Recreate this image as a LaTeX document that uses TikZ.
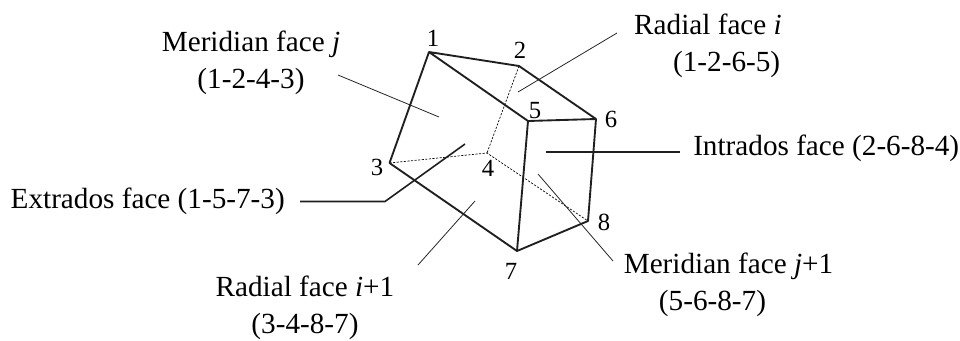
\documentclass[tikz,border=0pt]{standalone}
\usepackage{fontspec}
\setmainfont{Liberation Serif}
\begin{document}
\begin{tikzpicture}[x=0.75pt,y=-0.75pt,
  edge/.style={line width=1.4pt,line join=round,draw=black!88},
  hidden/.style={line width=0.5pt,dash pattern=on 1.6pt off 1.1pt,draw=black},
  thin lead/.style={line width=0.6pt,draw=black!85},
  thick lead/.style={line width=1.2pt,draw=black!88},
  vertex/.style={inner sep=0pt,font=\fontsize{18.5}{20}\selectfont},
  caption/.style={inner sep=0pt,align=center,font=\fontsize{21.9}{28}\selectfont}]
\useasboundingbox (0,0) rectangle (960,340);
\coordinate (p1) at (429,52);
\coordinate (p2) at (519,66);
\coordinate (p3) at (389.5,163);
\coordinate (p4) at (487,153);
\coordinate (p5) at (528,121);
\coordinate (p6) at (596,119);
\coordinate (p7) at (517,251);
\coordinate (p8) at (588,221);
\draw[hidden] (p2) -- (p4) (p3) -- (p4) -- (p8);
\draw[edge] (p3) -- (p1) -- (p2) -- (p6) -- (p5) -- (p1);
\draw[edge] (p3) -- (p7) -- (p5);
\draw[edge] (p6) -- (p8) -- (p7);
\node[vertex] (n1) at (433,38) {1};
\node[vertex] (n2) at (520,50) {2};
\node[vertex] (n3) at (377,167) {3};
\node[vertex] (n4) at (488,168) {4};
\node[vertex] (n5) at (535,111) {5};
\node[vertex] (n6) at (611,119) {6};
\node[vertex] (n7) at (511,271) {7};
\node[vertex] (n8) at (604,222) {8};
\node[caption] (mj) at (251,63) {Meridian face \textit{j}\\(1-2-4-3)};
\node[caption] (ri) at (708,46) {Radial face \textit{i}\\\hspace*{28pt}(1-2-6-5)};
\node[caption,anchor=base east] (ex) at (285,208.5) {Extrados face (1-5-7-3)};
\node[caption,anchor=base west] (in) at (693,155.5) {Intrados face (2-6-8-4)};
\node[caption] (ri1) at (305,308) {Radial face \textit{i}+1\\(3-4-8-7)};
\node[caption] (mj1) at (728.5,285) {Meridian face \textit{j}+1\\(5-6-8-7)\hspace*{24pt}};
\coordinate (a1) at (338,75); \coordinate (a2) at (439,117);
\coordinate (b1) at (617,33); \coordinate (b2) at (518,92);
\coordinate (c1) at (300,201.5); \coordinate (c2) at (385,201.5); \coordinate (c3) at (465,144);
\coordinate (d1) at (546,152); \coordinate (d2) at (680,152);
\coordinate (e1) at (418,265); \coordinate (e2) at (475,201);
\coordinate (f1) at (538,174); \coordinate (f2) at (613,261);
\draw[thin lead] (a1) -- (a2);
\draw[thin lead] (b1) -- (b2);
\draw[thick lead] (c1) -- (c2) -- (c3);
\draw[thick lead] (d1) -- (d2);
\draw[thin lead] (e1) -- (e2);
\draw[thin lead] (f1) -- (f2);
\end{tikzpicture}
\end{document}
